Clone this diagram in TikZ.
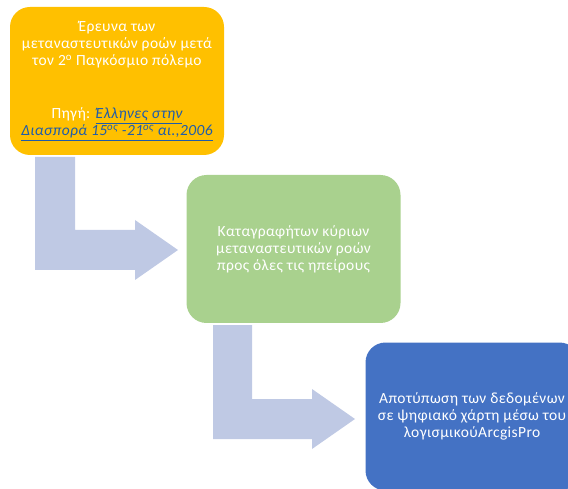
\documentclass[tikz,border=0pt]{standalone}
\usepackage{fontspec}
\setmainfont[LetterSpace=2.5]{Carlito}
\definecolor{boxorange}{RGB}{255,192,0}
\definecolor{boxgreen}{RGB}{169,209,142}
\definecolor{boxblue}{RGB}{68,114,196}
\definecolor{arrowblue}{RGB}{191,201,228}
\definecolor{linkblue}{RGB}{31,92,170}
\begin{document}
\begin{tikzpicture}[x=1pt,y=-1pt,
  stepbox/.style={rounded corners=20pt, inner sep=0pt, minimum width=214pt, minimum height=148pt, text=white, align=center, font=\fontsize{15.5}{17}\selectfont},
  bentarrow/.style={fill=arrowblue, draw=none}]
\useasboundingbox (0,0) rectangle (568,489);
\clip (0,0) rectangle (568,489);
% boxes
\node[stepbox, fill=boxorange] (b1) at (117,81)
  {Έρευνα των\\μεταναστευτικών ροών μετά\\τον 2\textsuperscript{ο} Παγκόσμιο πόλεμο\\[36pt]
   Πηγή: {\color{linkblue}\itshape\underline{Έλληνες στην}}\\
   {\color{linkblue}\itshape\underline{Διασπορά 15\textsuperscript{ος} -21\textsuperscript{ος} αι.,2006}}};
\node[stepbox, fill=boxgreen] (b2) at (293.5,249)
  {Καταγραφήτων κύριων\\μεταναστευτικών ροών\\ προς όλες τις ηπείρους};
\node[stepbox, fill=boxblue] (b3) at (472.5,416.5) {};
\node[text=white, align=center, inner sep=0pt, font=\fontsize{15.5}{17}\selectfont] (t3) at (472,416)
  {Αποτύπωση των δεδομένων\\σε ψηφιακό χάρτη μέσω του\\λογισμικούArcgisPro};
% bent arrows
\fill[bentarrow] (35,157) -- (75,157) -- (75,230) -- (135,230) -- (135,220) -- (178,250)
  -- (135,280) -- (135,270) -- (35,270) -- cycle;
\fill[bentarrow] (213,325) -- (252,325) -- (252,399) -- (312,399) -- (312,389) -- (355,419)
  -- (312,449) -- (312,439) -- (213,439) -- cycle;
\end{tikzpicture}
\end{document}
